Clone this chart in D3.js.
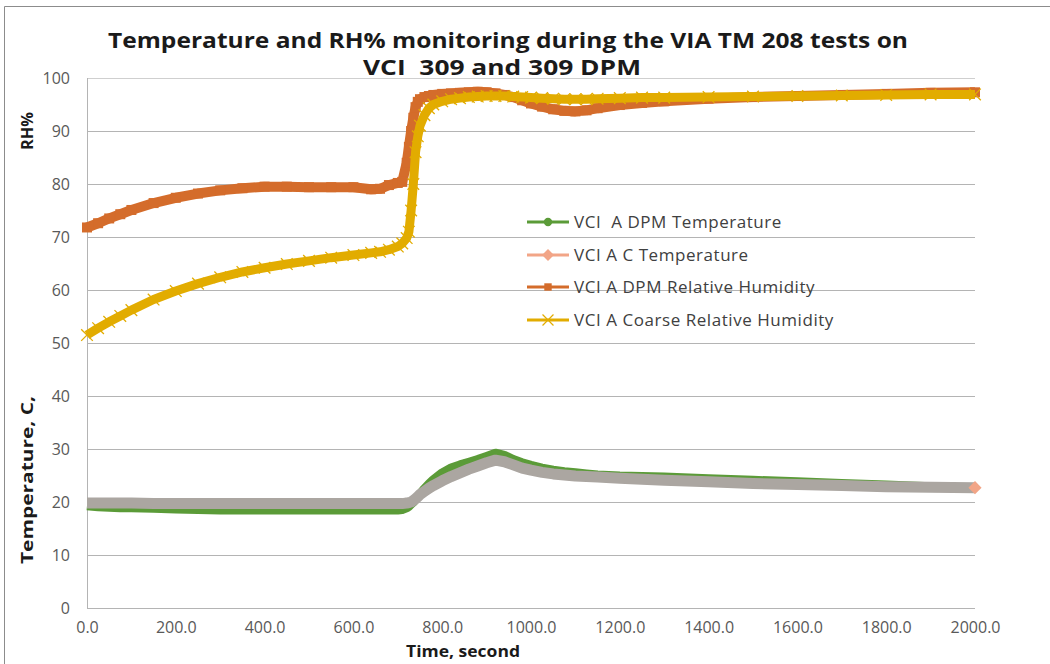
<!DOCTYPE html>
<html><head><meta charset="utf-8">
<script src="https://cdn.jsdelivr.net/npm/d3@7"></script>
<style>body{margin:0;background:#fff}svg{display:block}text{white-space:pre}</style>
</head><body>
<svg id="c" width="1050" height="664"></svg>
<script>
const times = [0,25,50,75,100,150,200,250,300,350,400,450,500,550,600,640,660,680,700,710,720,725,730,735,740,745,750,760,770,780,800,820,840,860,880,900,920,940,960,980,1000,1025,1050,1075,1100,1125,1150,1200,1250,1300,1400,1500,1600,1700,1800,1900,2000];
const dpmTemp = [19.3,19.1,19.0,18.9,18.9,18.8,18.7,18.6,18.5,18.5,18.5,18.5,18.5,18.5,18.5,18.5,18.5,18.5,18.5,18.6,18.9,19.2,19.6,20.0,20.5,21.0,21.5,22.5,23.4,24.2,25.5,26.4,27.0,27.5,28.0,28.6,29.2,28.8,28.0,27.4,26.9,26.4,26.0,25.7,25.5,25.3,25.1,24.9,24.8,24.7,24.4,24.1,23.8,23.5,23.2,22.9,22.6];
const cTemp = [19.8,19.8,19.8,19.8,19.8,19.7,19.7,19.7,19.7,19.7,19.7,19.7,19.7,19.7,19.7,19.7,19.7,19.7,19.7,19.7,19.8,19.9,20.0,20.3,20.6,21.0,21.4,22.0,22.6,23.1,24.0,24.8,25.5,26.2,26.8,27.4,27.9,27.6,27.0,26.4,26.0,25.6,25.3,25.1,24.9,24.8,24.7,24.5,24.3,24.1,23.8,23.5,23.3,23.1,22.9,22.8,22.7];
const dpmRH = [71.8,72.6,73.5,74.3,75.1,76.4,77.4,78.2,78.8,79.2,79.5,79.5,79.4,79.4,79.4,79.0,79.1,79.8,80.2,80.4,84,87,90,92.5,94.5,95.5,96,96.4,96.6,96.8,97.0,97.1,97.2,97.3,97.4,97.3,97.1,96.8,96.4,95.8,95.2,94.6,94.1,93.8,93.7,93.9,94.3,94.9,95.3,95.6,96.1,96.4,96.6,96.8,97.0,97.2,97.3];
const coarseRH = [51.5,52.8,54.0,55.1,56.2,58.2,59.8,61.2,62.4,63.4,64.2,64.9,65.5,66.1,66.6,67.0,67.2,67.6,68.2,68.8,69.8,71,75,80,86,89,91,93,94.3,95,95.6,96.0,96.2,96.4,96.5,96.6,96.6,96.6,96.5,96.4,96.3,96.2,96.1,96.0,96.0,96.0,96.1,96.2,96.3,96.3,96.4,96.5,96.6,96.7,96.8,96.9,96.9];
const seriesNames = ["VCI  A DPM Temperature","VCI A C Temperature","VCI A DPM Relative Humidity","VCI A Coarse Relative Humidity"];
const xTicks = [0,200,400,600,800,1000,1200,1400,1600,1800,2000];
const yTicks = [0,10,20,30,40,50,60,70,80,90,100];
const titleLines = ["Temperature and RH% monitoring during the VIA TM 208 tests on","VCI  309 and 309 DPM"];

const svg = d3.select("#c");
const L=87,R=975,T=78,B=608;
const x = d3.scaleLinear().domain([0,2000]).range([L,R]);
const y = d3.scaleLinear().domain([0,100]).range([B,T]);
const font = "'Open Sans', 'Noto Sans', sans-serif";

// outer border (top & left)
svg.append("line").attr("x1",4.5).attr("x2",1050).attr("y1",6.5).attr("y2",6.5).attr("stroke","#8c8c8c");
svg.append("line").attr("x1",4.5).attr("x2",4.5).attr("y1",6.5).attr("y2",664).attr("stroke","#8c8c8c");

// gridlines
svg.append("g").selectAll("line").data(yTicks).join("line")
  .attr("x1",L).attr("x2",R).attr("y1",d=>Math.round(y(d))+0.5).attr("y2",d=>Math.round(y(d))+0.5)
  .attr("stroke",d=>d===100?"#cfcfcf":"#b4b4b4").attr("stroke-width",1);
svg.append("line").attr("x1",L+0.5).attr("x2",L+0.5).attr("y1",T).attr("y2",B).attr("stroke","#b4b4b4");

// axes labels via d3 axes
const yAxis = svg.append("g").attr("transform",`translate(${L},0)`)
  .call(d3.axisLeft(y).tickValues(yTicks).tickSize(0).tickPadding(17).tickFormat(d3.format("d")));
yAxis.select(".domain").remove();
yAxis.selectAll("text").attr("font-family",font).attr("font-size",16).attr("fill","#595959");
const xAxis = svg.append("g").attr("transform",`translate(0,${B})`)
  .call(d3.axisBottom(x).tickValues(xTicks).tickSize(0).tickPadding(14).tickFormat(d3.format(".1f")));
xAxis.select(".domain").remove();
xAxis.selectAll("text").attr("font-family",font).attr("font-size",16).attr("fill","#595959");

// axis titles
svg.append("text").attr("x",463).attr("y",657).attr("text-anchor","middle").attr("font-family",font)
  .attr("font-weight","bold").attr("font-size",16).attr("fill","#1a1a1a")
  .attr("textLength",114).attr("lengthAdjust","spacingAndGlyphs").text("Time, second");
svg.append("text").attr("transform","translate(33,131) rotate(-90)").attr("text-anchor","middle").attr("font-family",font)
  .attr("font-weight","bold").attr("font-size",16).attr("fill","#1a1a1a")
  .attr("textLength",38).attr("lengthAdjust","spacingAndGlyphs").text("RH%");
svg.append("text").attr("transform","translate(33,480) rotate(-90)").attr("text-anchor","middle").attr("font-family",font)
  .attr("font-weight","bold").attr("font-size",16).attr("fill","#1a1a1a")
  .attr("textLength",168).attr("lengthAdjust","spacingAndGlyphs").text("Temperature, C,");

// title
svg.append("text").attr("x",508).attr("y",48).attr("text-anchor","middle").attr("font-family",font)
  .attr("font-weight","bold").attr("font-size",21).attr("fill","#1a1a1a")
  .attr("textLength",800).attr("lengthAdjust","spacingAndGlyphs").text(titleLines[0]);
svg.append("text").attr("x",502).attr("y",75).attr("text-anchor","middle").attr("font-family",font)
  .attr("font-weight","bold").attr("font-size",21).attr("fill","#1a1a1a")
  .attr("textLength",278).attr("lengthAdjust","spacingAndGlyphs").text(titleLines[1]);

const colors = ["#5b9b38","#aba6a1","#d46c2b","#e2ac00"];
const mk = ["#5b9b38","#f2a587","#d46c2b","#e2ac00"];
const line = vals => d3.line().x((d,i)=>x(times[i])).y(d=>y(d))(vals);

// series 1 green
svg.append("path").attr("d",line(dpmTemp)).attr("fill","none").attr("stroke",colors[0]).attr("stroke-width",9).attr("stroke-linejoin","round");
// series 2 gray
svg.append("path").attr("d",line(cTemp)).attr("fill","none").attr("stroke",colors[1]).attr("stroke-width",11).attr("stroke-linejoin","round");
svg.append("path").attr("d",d3.symbol(d3.symbolDiamond2,110)()).attr("transform",`translate(${x(times[times.length-1])},${y(cTemp[cTemp.length-1])})`).attr("fill",mk[1]);
// series 3 orange
svg.append("path").attr("d",line(dpmRH)).attr("fill","none").attr("stroke",colors[2]).attr("stroke-width",10).attr("stroke-linejoin","round");
svg.append("g").selectAll("rect").data(dpmRH).join("rect")
  .attr("x",(d,i)=>x(times[i])-5).attr("y",d=>y(d)-5).attr("width",10).attr("height",10).attr("fill",colors[2]);
// series 4 yellow
svg.append("path").attr("d",line(coarseRH)).attr("fill","none").attr("stroke",colors[3]).attr("stroke-width",9).attr("stroke-linejoin","round");
svg.append("g").selectAll("path").data(coarseRH).join("path")
  .attr("d",d3.symbol(d3.symbolX,90)()).attr("transform",(d,i)=>`translate(${x(times[i])},${y(d)})`)
  .attr("stroke",colors[3]).attr("stroke-width",1.3).attr("fill","none");

// legend
const lg = svg.append("g");
const rows = [222,255,287,320];
seriesNames.forEach((n,i)=>{
  const g = lg.append("g").attr("transform",`translate(0,${rows[i]})`);
  g.append("line").attr("x1",527).attr("x2",569).attr("y1",0).attr("y2",0).attr("stroke",i===1?mk[1]:colors[i]).attr("stroke-width",3);
  const sym = [d3.symbolCircle,d3.symbolDiamond2,d3.symbolSquare,d3.symbolX][i];
  const p = g.append("path").attr("d",d3.symbol(sym,i===1?90:(i===3?80:55))()).attr("transform","translate(548,0)");
  if(i===3) p.attr("stroke",colors[3]).attr("stroke-width",1.2).attr("fill","none");
  else p.attr("fill",mk[i]);
  g.append("text").attr("x",574).attr("y",6).attr("font-family",font).attr("font-size",17)
    .attr("letter-spacing",0.55).attr("fill","#404040").text(n);
});
</script>
</body></html>
